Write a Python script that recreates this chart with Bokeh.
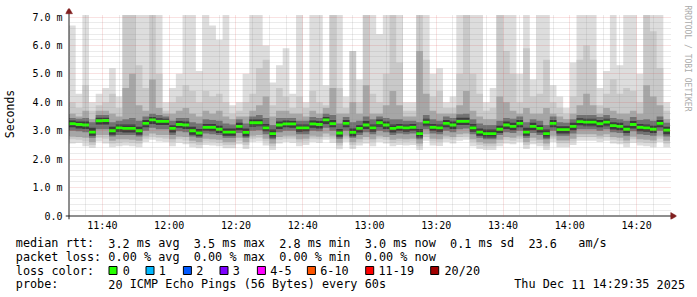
import re
from math import pi
from bokeh.plotting import figure
from bokeh.models import Range1d, FixedTicker, Title
from bokeh.embed import file_html
from bokeh.resources import INLINE
from bokeh.core.properties import value

# ------------------------------------------------------------------ data
# 2-minute samples from 11:30 to 14:30 (minutes since 11:30)
minutes = list(range(0, 182, 2))          # 91 step edges

median = [3.25, 3.22, 3.20, 2.95, 3.35, 3.36, 3.00, 3.10, 3.08, 3.08,
          3.00, 3.26, 3.38, 3.33, 3.33, 3.08, 3.22, 3.20, 3.00, 2.92,
          3.12, 3.12, 3.05, 2.95, 2.95, 3.15, 2.94, 3.28, 3.28, 3.10,
          2.90, 3.20, 3.24, 3.24, 3.10, 3.10, 3.24, 3.22, 3.38, 3.25,
          2.92, 3.26, 2.94, 3.08, 3.20, 3.10, 3.28, 3.20, 3.08, 3.12,
          3.10, 3.12, 2.90, 3.30, 3.12, 3.10, 3.26, 3.20, 3.33, 3.33,
          3.10, 2.95, 2.90, 2.90, 3.05, 3.20, 3.15, 3.26, 2.95, 3.15,
          3.08, 2.90, 3.26, 3.04, 3.04, 3.15, 3.32, 3.30, 3.30, 3.25,
          3.30, 3.18, 3.15, 3.05, 3.22, 3.12, 3.10, 3.05, 3.26, 3.02]

# smoke envelopes (outer -> inner), values in ms; 7.07 = clipped at graph top
hi1 = [6.70, 4.30, 7.07, 4.00, 4.30, 4.50, 5.20, 4.20, 7.07, 7.07,
       7.07, 7.07, 7.07, 7.07, 4.00, 4.50, 5.00, 7.07, 7.07, 5.10,
       7.07, 6.70, 6.20, 7.07, 3.90, 4.00, 5.00, 7.07, 7.07, 6.00,
       4.70, 5.30, 5.90, 4.30, 7.07, 4.00, 7.07, 7.07, 4.60, 7.07,
       7.07, 4.20, 5.80, 4.80, 7.07, 7.07, 6.40, 7.07, 7.07, 7.07,
       4.00, 4.00, 7.07, 7.07, 5.00, 5.20, 4.00, 4.20, 7.07, 7.07,
       7.07, 7.07, 4.00, 4.50, 7.07, 7.07, 7.07, 5.00, 7.07, 4.80,
       7.07, 7.07, 4.60, 4.20, 3.80, 5.40, 7.07, 7.07, 7.07, 4.50,
       5.10, 7.07, 5.30, 7.07, 7.07, 5.00, 7.07, 7.07, 7.07, 4.00]
hi2 = [4.00, 3.80, 4.60, 3.70, 3.90, 4.00, 4.30, 3.80, 7.07, 7.07,
       5.30, 4.50, 7.07, 5.00, 3.70, 4.00, 4.20, 4.60, 4.40, 4.00,
       4.40, 4.20, 4.30, 4.00, 3.60, 3.70, 4.00, 4.30, 5.20, 5.50,
       3.90, 4.50, 4.20, 3.80, 4.20, 3.80, 4.40, 4.00, 3.90, 7.07,
       4.50, 3.80, 5.80, 4.00, 7.07, 4.30, 4.00, 5.00, 7.07, 5.40,
       3.70, 3.70, 7.07, 5.50, 4.20, 4.40, 3.80, 3.80, 5.00, 7.07,
       5.00, 4.30, 3.70, 3.80, 7.07, 5.80, 5.00, 4.00, 5.90, 4.20,
       4.30, 5.50, 4.00, 3.80, 3.60, 4.20, 5.50, 6.00, 5.50, 3.90,
       4.30, 4.80, 4.30, 4.50, 4.40, 4.00, 7.07, 6.50, 5.20, 3.70]
hi3 = [3.60, 3.50, 3.70, 3.40, 3.70, 3.70, 3.60, 3.50, 4.50, 5.00,
       3.90, 3.70, 4.80, 3.80, 3.60, 3.60, 3.70, 3.80, 3.60, 3.50,
       3.70, 3.60, 3.70, 3.50, 3.40, 3.50, 3.50, 3.70, 3.90, 4.20,
       3.50, 3.70, 3.70, 3.60, 3.60, 3.50, 3.70, 3.60, 3.80, 4.50,
       3.60, 3.60, 4.00, 3.60, 4.60, 3.60, 3.60, 3.90, 4.40, 3.90,
       3.50, 3.50, 5.80, 4.30, 3.70, 3.60, 3.60, 3.60, 3.90, 4.40,
       3.70, 3.50, 3.40, 3.40, 4.20, 4.00, 3.70, 3.60, 3.80, 3.60,
       3.60, 3.80, 3.60, 3.50, 3.40, 3.60, 3.90, 4.30, 3.90, 3.60,
       3.80, 3.70, 3.60, 3.60, 3.70, 3.60, 4.60, 4.20, 3.90, 3.40]
hi4 = [3.45, 3.42, 3.45, 3.30, 3.55, 3.55, 3.30, 3.35, 3.40, 3.45,
       3.35, 3.50, 3.60, 3.55, 3.50, 3.35, 3.45, 3.45, 3.30, 3.25,
       3.40, 3.38, 3.35, 3.25, 3.22, 3.40, 3.25, 3.50, 3.55, 3.45,
       3.20, 3.45, 3.45, 3.45, 3.35, 3.35, 3.48, 3.45, 3.60, 3.55,
       3.25, 3.48, 3.30, 3.35, 3.50, 3.40, 3.50, 3.45, 3.40, 3.40,
       3.35, 3.35, 3.30, 3.55, 3.40, 3.35, 3.50, 3.45, 3.58, 3.60,
       3.40, 3.25, 3.20, 3.20, 3.35, 3.45, 3.42, 3.50, 3.30, 3.40,
       3.35, 3.20, 3.50, 3.30, 3.28, 3.40, 3.55, 3.55, 3.55, 3.48,
       3.55, 3.45, 3.40, 3.35, 3.48, 3.38, 3.40, 3.35, 3.50, 3.28]
hi5 = [3.36, 3.32, 3.32, 3.10, 3.46, 3.46, 3.14, 3.22, 3.22, 3.22,
       3.14, 3.38, 3.48, 3.44, 3.42, 3.20, 3.34, 3.32, 3.14, 3.06,
       3.24, 3.24, 3.18, 3.08, 3.08, 3.28, 3.08, 3.40, 3.40, 3.24,
       3.04, 3.32, 3.36, 3.34, 3.22, 3.22, 3.36, 3.34, 3.48, 3.38,
       3.06, 3.38, 3.08, 3.20, 3.34, 3.22, 3.40, 3.32, 3.22, 3.24,
       3.22, 3.24, 3.06, 3.42, 3.24, 3.22, 3.38, 3.32, 3.46, 3.46,
       3.24, 3.08, 3.04, 3.04, 3.18, 3.32, 3.28, 3.38, 3.10, 3.28,
       3.20, 3.04, 3.38, 3.16, 3.16, 3.28, 3.44, 3.42, 3.42, 3.38,
       3.42, 3.30, 3.28, 3.18, 3.34, 3.24, 3.22, 3.18, 3.38, 3.14]
lo5 = [3.12, 3.08, 3.06, 2.82, 3.22, 3.22, 2.86, 2.96, 2.94, 2.94,
       2.86, 3.12, 3.24, 3.20, 3.20, 2.94, 3.10, 3.06, 2.86, 2.80,
       3.00, 2.98, 2.92, 2.82, 2.82, 3.02, 2.80, 3.14, 3.16, 2.98,
       2.76, 3.06, 3.12, 3.10, 2.96, 2.98, 3.10, 3.08, 3.24, 3.12,
       2.78, 3.12, 2.80, 2.94, 3.06, 2.96, 3.14, 3.06, 2.94, 3.00,
       2.96, 3.00, 2.76, 3.16, 3.00, 2.96, 3.12, 3.06, 3.20, 3.20,
       2.96, 2.82, 2.76, 2.76, 2.92, 3.06, 3.02, 3.12, 2.82, 3.02,
       2.94, 2.76, 3.12, 2.90, 2.90, 3.02, 3.18, 3.16, 3.16, 3.12,
       3.16, 3.04, 3.02, 2.92, 3.08, 2.98, 2.96, 2.92, 3.12, 2.88]
lo4 = [3.00, 2.98, 2.95, 2.75, 3.05, 3.05, 2.80, 2.85, 2.85, 2.85,
       2.80, 3.00, 3.10, 3.05, 3.05, 2.85, 2.98, 2.95, 2.80, 2.75,
       2.90, 2.88, 2.85, 2.75, 2.75, 2.92, 2.75, 3.00, 3.02, 2.88,
       2.70, 2.95, 3.00, 3.00, 2.88, 2.88, 3.00, 2.98, 3.10, 3.00,
       2.72, 3.00, 2.75, 2.85, 2.95, 2.88, 3.00, 2.95, 2.85, 2.90,
       2.88, 2.90, 2.70, 3.05, 2.90, 2.88, 3.00, 2.95, 3.05, 3.08,
       2.88, 2.75, 2.70, 2.70, 2.85, 2.95, 2.92, 3.00, 2.75, 2.92,
       2.85, 2.70, 3.00, 2.82, 2.82, 2.90, 3.05, 3.05, 3.05, 3.00,
       3.05, 2.95, 2.92, 2.82, 2.98, 2.88, 2.85, 2.82, 3.00, 2.80]
lo3 = [2.80, 2.78, 2.75, 2.60, 2.85, 2.85, 2.65, 2.70, 2.70, 2.68,
       2.65, 2.82, 2.90, 2.85, 2.85, 2.70, 2.80, 2.78, 2.65, 2.60,
       2.72, 2.70, 2.68, 2.60, 2.60, 2.75, 2.60, 2.82, 2.85, 2.72,
       2.55, 2.78, 2.82, 2.82, 2.70, 2.72, 2.82, 2.80, 2.90, 2.82,
       2.58, 2.82, 2.60, 2.70, 2.78, 2.70, 2.82, 2.78, 2.68, 2.72,
       2.70, 2.72, 2.55, 2.88, 2.72, 2.70, 2.82, 2.78, 2.88, 2.90,
       2.70, 2.60, 2.55, 2.55, 2.68, 2.78, 2.75, 2.82, 2.60, 2.75,
       2.68, 2.55, 2.82, 2.66, 2.66, 2.72, 2.88, 2.88, 2.88, 2.82,
       2.88, 2.78, 2.75, 2.66, 2.80, 2.70, 2.68, 2.66, 2.82, 2.65]
lo2 = [2.70, 2.68, 2.62, 2.50, 2.75, 2.72, 2.55, 2.58, 2.60, 2.58,
       2.55, 2.72, 2.80, 2.75, 2.72, 2.60, 2.70, 2.66, 2.55, 2.50,
       2.62, 2.60, 2.58, 2.50, 2.50, 2.65, 2.50, 2.72, 2.75, 2.62,
       2.45, 2.68, 2.72, 2.72, 2.60, 2.62, 2.72, 2.70, 2.80, 2.72,
       2.48, 2.72, 2.50, 2.60, 2.68, 2.60, 2.72, 2.68, 2.58, 2.62,
       2.60, 2.62, 2.45, 2.78, 2.62, 2.60, 2.72, 2.68, 2.78, 2.80,
       2.60, 2.50, 2.45, 2.45, 2.58, 2.68, 2.65, 2.72, 2.50, 2.65,
       2.58, 2.45, 2.72, 2.56, 2.56, 2.62, 2.78, 2.78, 2.78, 2.72,
       2.78, 2.68, 2.65, 2.56, 2.70, 2.60, 2.58, 2.56, 2.72, 2.55]
lo1 = [2.55, 2.58, 2.45, 2.40, 2.62, 2.55, 2.42, 2.45, 2.48, 2.45,
       2.42, 2.60, 2.68, 2.62, 2.60, 2.45, 2.58, 2.52, 2.42, 2.38,
       2.50, 2.48, 2.45, 2.38, 2.38, 2.52, 2.36, 2.60, 2.62, 2.48,
       2.32, 2.55, 2.60, 2.58, 2.45, 2.50, 2.60, 2.58, 2.68, 2.58,
       2.35, 2.60, 2.36, 2.48, 2.55, 2.45, 2.60, 2.55, 2.45, 2.50,
       2.48, 2.50, 2.32, 2.65, 2.48, 2.46, 2.60, 2.55, 2.65, 2.68,
       2.45, 2.36, 2.32, 2.32, 2.45, 2.55, 2.52, 2.60, 2.36, 2.52,
       2.45, 2.32, 2.60, 2.42, 2.42, 2.50, 2.65, 2.65, 2.65, 2.60,
       2.65, 2.55, 2.52, 2.42, 2.58, 2.48, 2.45, 2.42, 2.60, 2.42]

x_ticks = [10, 30, 50, 70, 90, 110, 130, 150, 170]
x_tick_labels = ["11:40", "12:00", "12:20", "12:40", "13:00",
                 "13:20", "13:40", "14:00", "14:20"]
x_minor = [5, 15, 20, 25, 35, 40, 45, 55, 60, 65, 75, 80, 85, 95, 100, 105,
           115, 120, 125, 135, 140, 145, 155, 160, 165, 175]
y_ticks = [0, 1, 2, 3, 4, 5, 6, 7]
y_tick_labels = ["0.0", "1.0 m", "2.0 m", "3.0 m", "4.0 m", "5.0 m", "6.0 m", "7.0 m"]
y_minor = [0.2, 0.4, 0.6, 0.8, 1.2, 1.4, 1.6, 1.8, 2.2, 2.4, 2.6, 2.8,
           3.2, 3.4, 3.6, 3.8, 4.2, 4.4, 4.6, 4.8, 5.2, 5.4, 5.6, 5.8,
           6.2, 6.4, 6.6, 6.8]
y_top = 7.07

line1 = "median rtt:  3.2 ms avg  3.5 ms max  2.8 ms min  3.0 ms now  0.1 ms sd  23.6   am/s"
line2 = "packet loss: 0.00 % avg  0.00 % max  0.00 % min  0.00 % now"
line3 = "loss color:"
line4 = "probe:       20 ICMP Echo Pings (56 Bytes) every 60s"
stamp = "Thu Dec 11 14:29:35 2025"
loss_labels = ["0", "1", "2", "3", "4-5", "6-10", "11-19", "20/20"]
loss_colors = ["#26ff00", "#00b8ff", "#0059ff", "#7e00ff",
               "#ff00ff", "#ff5500", "#ff0000", "#a10000"]

# ------------------------------------------------------------------ layout
W, H_TOP, H_BOT = 697, 232, 65
X0, Y0 = 66.5, 215.5                  # pixel position of (11:30, 0 ms)
PX_MIN = 601.0 / 180.0
PX_VAL = 199.0 / 7.0
FL, FR, FT, FB = 63, 674, 8, 219      # frame edges in pixels

MONO = "DejaVu Sans Mono"

p = figure(frame_width=FR - FL, frame_height=FB - FT,
           min_border_left=FL, min_border_right=W - FR,
           min_border_top=FT, min_border_bottom=H_TOP - FB,
           x_range=Range1d((FL - X0) / PX_MIN, (FR - X0) / PX_MIN),
           y_range=Range1d((Y0 - FB) / PX_VAL, (Y0 - FT) / PX_VAL),
           output_backend="svg", toolbar_location=None,
           background_fill_color="white", border_fill_color="white",
           outline_line_color=None)

def closed(a):
    return list(a) + [a[-1]]

bands = [(lo1, hi1, "#dddddd"), (lo2, hi2, "#c9c9c9"),
         (lo3, hi3, "#a6a6a6"), (lo4, hi4, "#727272"), (lo5, hi5, "#3c3c3c")]
for lo, hi, col in bands:
    p.varea_step(x=minutes, y1=closed(lo), y2=closed(hi), step_mode="after",
                 fill_color=col)

MED_HALF = 0.05
med_c = closed(median)
p.varea_step(x=minutes, y1=[m - MED_HALF for m in med_c],
             y2=[m + MED_HALF for m in med_c], step_mode="after",
             fill_color=loss_colors[0])

# axes lines and arrows
AXIS_C = "#1f1f1f"
ARROW_C = "#801f1f"
p.segment(x0=[0, (63 - X0) / PX_MIN], y0=[(Y0 - 219) / PX_VAL, 0],
          x1=[0, (671 - X0) / PX_MIN], y1=[(Y0 - 11) / PX_VAL, 0],
          line_color=AXIS_C, line_width=1)
p.scatter(x=[0], y=[(Y0 - 11.2) / PX_VAL], marker="triangle", size=7,
          fill_color=ARROW_C, line_color=ARROW_C, line_width=0.5)
p.scatter(x=[(670.3 - X0) / PX_MIN], y=[0], marker="triangle", size=7, angle=-pi / 2,
          fill_color=ARROW_C, line_color=ARROW_C, line_width=0.5)

# ticks / labels via axes
p.xaxis.ticker = FixedTicker(ticks=x_ticks)
p.xaxis.major_label_overrides = dict(zip(x_ticks, x_tick_labels))
p.yaxis.ticker = FixedTicker(ticks=y_ticks)
p.yaxis.major_label_overrides = dict(zip(y_ticks, y_tick_labels))
for ax in (p.xaxis[0], p.yaxis[0]):
    ax.axis_line_color = None
    ax.major_tick_line_color = None
    ax.minor_tick_line_color = None
    ax.major_tick_out = 0
    ax.major_tick_in = 0
    ax.minor_tick_out = 0
    ax.minor_tick_in = 0
    ax.major_label_text_font = MONO
    ax.major_label_text_font_size = "10px"
    ax.major_label_text_color = "#000000"
p.xaxis.major_label_standoff = 0
p.yaxis.major_label_standoff = 3
p.yaxis.axis_label = "Seconds"
p.yaxis.axis_label_text_font = MONO
p.yaxis.axis_label_text_font_size = "11.5px"
p.yaxis.axis_label_text_font_style = "normal"
p.yaxis.axis_label_text_color = "#000000"
p.yaxis.axis_label_standoff = 12

# grids (drawn over the smoke, as rrdtool does)
p.xgrid.ticker = FixedTicker(ticks=x_ticks, minor_ticks=x_minor)
p.ygrid.ticker = FixedTicker(ticks=y_ticks[1:], minor_ticks=y_minor)
for g in (p.xgrid[0], p.ygrid[0]):
    g.grid_line_color = "#de4f4f"
    g.grid_line_alpha = 0.32
    g.grid_line_dash = "1 1"
    g.grid_line_width = 1
    g.minor_grid_line_color = "#8f8f8f"
    g.minor_grid_line_alpha = 0.36
    g.minor_grid_line_dash = "1 1"
    g.minor_grid_line_width = 1
    g.level = "annotation"
try:
    p.xgrid[0].cross_bounds = (0, y_top)
    p.ygrid[0].cross_bounds = (0, 180)
except Exception:
    pass

p.add_layout(Title(text="RRDTOOL / TOBI OETIKER", align="left",
                   vertical_align="middle", offset=-3, standoff=11,
                   text_font=MONO, text_font_size="8px",
                   text_font_style="normal", text_color="#aaaaaa"), "right")

# ------------------------------------------------------------------ legend area
q = figure(width=W, height=H_BOT, x_range=Range1d(0, W), y_range=Range1d(H_BOT, 0),
           output_backend="svg", toolbar_location=None, min_border=0,
           background_fill_color="white", border_fill_color="white",
           outline_line_color=None, x_axis_type=None, y_axis_type=None)
q.grid.visible = False

CX0, CW = 15.3, 7.12
rows = [(line1, 9.7), (line2, 23.3), (line3, 37.0), (line4, 50.7)]
tx, ty, tt = [], [], []
for s, yy in rows:
    for m in re.finditer(r"\S+", s):
        tx.append(CX0 + m.start() * CW)
        ty.append(yy)
        tt.append(m.group())
for m in re.finditer(r"\S+", stamp):
    tx.append(CX0 + (70 + m.start()) * CW)
    ty.append(50.7)
    tt.append(m.group())
q.text(x=tx, y=ty, text=tt, text_font=value(MONO), text_font_size="11.8px",
       text_baseline="middle", text_align="left", text_color="#000000")

box_left = [108.3, 145.3, 182.7, 219.3, 256.7, 306.7, 365.0, 430.0]
lab_x = [122.3, 158.3, 195.7, 232.3, 269.7, 319.7, 378.0, 444.0]
q.rect(x=[b + 4.2 for b in box_left], y=[37.0] * 8, width=8, height=8,
       fill_color=loss_colors, line_color="#000000", line_width=1)
q.text(x=lab_x, y=[37.0] * 8, text=loss_labels, text_font=value(MONO),
       text_font_size="11.8px", text_baseline="middle", text_align="left",
       text_color="#000000")

open("out.html", "w").write(file_html([p, q], INLINE))
